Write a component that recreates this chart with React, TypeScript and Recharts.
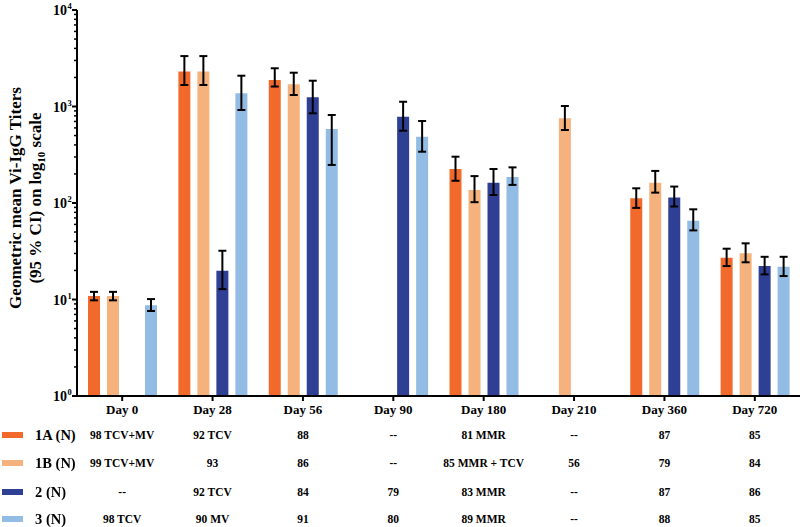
import React from 'react';
import { BarChart, Bar, XAxis, YAxis, ErrorBar } from 'recharts';

const days = ['Day 0', 'Day 28', 'Day 56', 'Day 90', 'Day 180', 'Day 210', 'Day 360', 'Day 720'];

// geometric mean titers + 95% CI bounds per group
const gmt1A = [10.9, 2300, 1880, null, 225, null, 112, 27.1];
const lo1A = [9.8, 1670, 1610, null, 170, null, 89, 22.2];
const hi1A = [12.0, 3330, 2490, null, 302, null, 142, 33.6];

const gmt1B = [10.9, 2300, 1700, null, 136, 755, 162, 30.1];
const lo1B = [9.8, 1670, 1316, null, 102, 571, 128, 24.3];
const hi1B = [12.0, 3330, 2240, null, 190, 1012, 215, 38.2];

const gmt2 = [null, 19.9, 1245, 784, 162, null, 114, 22.2];
const lo2 = [null, 12.8, 850, 561, 121, null, 92, 18.2];
const hi2 = [null, 32, 1850, 1120, 225, null, 148, 27.7];

const gmt3 = [8.7, 1370, 585, 486, 186, null, 65.6, 21.9];
const lo3 = [7.6, 920, 248, 340, 154, null, 52, 17.5];
const hi3 = [10.1, 2085, 817, 707, 234, null, 86, 27.7];

// N per visit table
const n1A = ['98 TCV+MV', '92 TCV', '88', '--', '81 MMR', '--', '87', '85'];
const n1B = ['99 TCV+MV', '93', '86', '--', '85 MMR + TCV', '56', '79', '84'];
const n2 = ['--', '92 TCV', '84', '79', '83 MMR', '--', '87', '86'];
const n3 = ['98 TCV', '90 MV', '91', '80', '89 MMR', '--', '88', '85'];

const groupNames = ['1A (N)', '1B (N)', '2 (N)', '3 (N)'];
const groupColors = ['#F26A2B', '#F5B27C', '#2F3F94', '#93BCE4'];

const majorTicks = [1, 10, 100, 1000, 10000];
const minorSteps = [2, 3, 4, 5, 6, 7, 8, 9];
const yTicks = [
  ...majorTicks.slice(0, -1).flatMap((p) => [p, ...minorSteps.map((m) => m * p)]),
  10000,
];

const err = (v: number | null, lo: number | null, hi: number | null) =>
  v == null || lo == null || hi == null ? null : [v - lo, hi - v];

const data = days.map((day, i) => ({
  day,
  g1A: gmt1A[i], e1A: err(gmt1A[i], lo1A[i], hi1A[i]),
  g1B: gmt1B[i], e1B: err(gmt1B[i], lo1B[i], hi1B[i]),
  g2: gmt2[i], e2: err(gmt2[i], lo2[i], hi2[i]),
  g3: gmt3[i], e3: err(gmt3[i], lo3[i], hi3[i]),
}));

const tableRows = [n1A, n1B, n2, n3];
const FONT = '"Liberation Serif", "Times New Roman", serif';

const YTick = (props: any) => {
  const { x, y, payload } = props;
  const v = payload.value;
  const isMajor = majorTicks.includes(v);
  if (!isMajor) {
    return <line x1={x - 3} y1={y} x2={x} y2={y} stroke="#000" strokeWidth={1.5} />;
  }
  const exp = Math.round(Math.log10(v));
  return (
    <g>
      <line x1={x - 5} y1={y} x2={x} y2={y} stroke="#000" strokeWidth={2} />
      <text x={x - 10} y={y + 5} textAnchor="end" fontSize={14} fontWeight="bold" fontFamily={FONT} fill="#000">
        10
      </text>
      <text x={x - 9.5} y={y - 1} textAnchor="start" fontSize={8.5} fontWeight="bold" fontFamily={FONT} fill="#000">
        {exp}
      </text>
    </g>
  );
};

const DayTick = (props: any) => {
  const { x, y, payload, index } = props;
  const rowDy = [36, 64, 93, 120];
  return (
    <g fontFamily={FONT} fontWeight="bold" fill="#000">
      <text x={x} y={y + 11} textAnchor="middle" fontSize={13}>{payload.value}</text>
      {tableRows.map((r, k) => (
        <text key={k} x={x} y={y + rowDy[k]} textAnchor="middle" fontSize={11.5}>
          {r[index]}
        </text>
      ))}
    </g>
  );
};

export default function App() {
  const keys = ['1A', '1B', '2', '3'];
  const legendRowTop = [421, 449, 478, 505];
  return (
    <div style={{ position: 'fixed', left: 0, top: 0, width: 800, height: 527, background: '#fff', fontFamily: FONT }}>
      <BarChart
        width={800}
        height={527}
        data={data}
        margin={{ top: 10, right: 0, left: 0, bottom: 0 }}
        barSize={12}
        barGap={7}
      >
        <XAxis
          dataKey="day"
          height={131}
          interval={0}
          axisLine={{ stroke: '#000', strokeWidth: 2 }}
          tickLine={{ stroke: '#000', strokeWidth: 2 }}
          tickSize={5}
          tickMargin={2}
          tick={<DayTick />}
        />
        <YAxis
          type="number"
          scale="log"
          domain={[1, 10000]}
          allowDataOverflow
          ticks={yTicks}
          interval={0}
          width={77}
          tickLine={false}
          tickSize={0}
          tickMargin={0}
          axisLine={{ stroke: '#000', strokeWidth: 2 }}
          tick={<YTick />}
        />
        {keys.map((k, i) => (
          <Bar key={k} dataKey={'g' + k} name={groupNames[i]} fill={groupColors[i]} isAnimationActive={false}>
            <ErrorBar dataKey={'e' + k} direction="y" width={4} stroke="#000" strokeWidth={2} />
          </Bar>
        ))}
      </BarChart>

      {/* rotated y-axis title */}
      <div
        style={{
          position: 'absolute',
          left: 26,
          top: 198,
          width: 380,
          transform: 'translate(-50%, -50%) rotate(-90deg)',
          textAlign: 'center',
          fontWeight: 'bold',
          fontSize: 17,
          lineHeight: '20px',
          color: '#000',
        }}
      >
        Geometric mean Vi-IgG Titers
        <br />
        (95 % CI) on log<sub style={{ fontSize: 11, lineHeight: 0 }}>10</sub> scale
      </div>

      {/* legend column of the N table */}
      {groupNames.map((n, i) => (
        <div
          key={n}
          style={{ position: 'absolute', left: 2, top: legendRowTop[i], height: 28, display: 'flex', alignItems: 'center' }}
        >
          <div style={{ width: 21, height: 6, background: groupColors[i] }} />
          <span style={{ marginLeft: 12, fontWeight: 'bold', fontSize: 14.5, color: '#000' }}>{n}</span>
        </div>
      ))}
    </div>
  );
}
